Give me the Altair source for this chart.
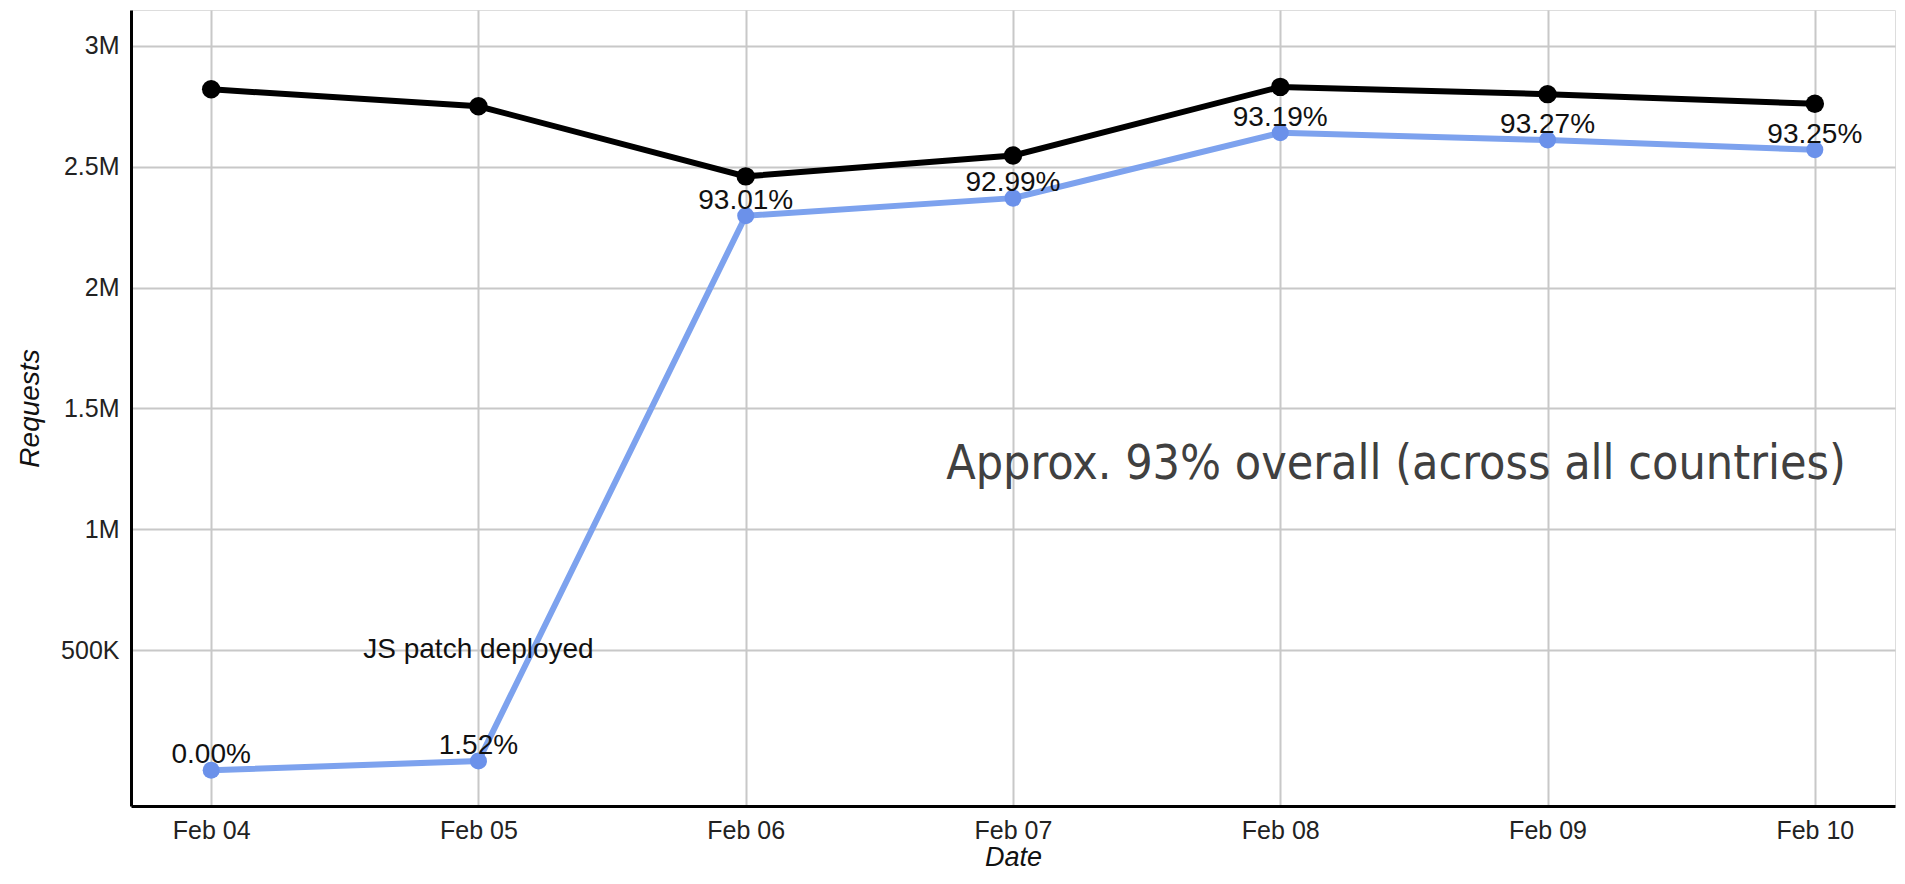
import altair as alt
import pandas as pd

dates = ["Feb 04", "Feb 05", "Feb 06", "Feb 07", "Feb 08", "Feb 09", "Feb 10"]
total_requests = [2820000, 2750000, 2460000, 2546000, 2830000, 2800000, 2760000]
patched_requests = [4000, 42000, 2297000, 2370000, 2640000, 2610000, 2570000]
pct_labels = ["0.00%", "1.52%", "93.01%", "92.99%", "93.19%", "93.27%", "93.25%"]
y_ticks = [500000, 1000000, 1500000, 2000000, 2500000, 3000000]

note_date = ["Feb 05"]
note_value = [500000]
note_text = ["JS patch deployed"]

big_date = ["Feb 10"]
big_value = [1265000]
big_text = ["Approx. 93% overall (across all countries)"]

df = pd.DataFrame({"Date": dates, "total": total_requests,
                   "patched": patched_requests, "pct": pct_labels})
notes = pd.DataFrame({"Date": note_date, "v": note_value, "t": note_text})
bigs = pd.DataFrame({"Date": big_date, "v": big_value, "t": big_text})

BLUE_LINE = "#7da2ee"
BLUE_PT = "#6b91ea"

x = alt.X("Date:N", sort=dates,
          scale=alt.Scale(type="point", padding=0.3),
          axis=alt.Axis(title="Date", labelAngle=0, labelFontSize=25,
                        labelFont="Liberation Sans", labelColor="#222",
                        labelPadding=12, titleFontSize=27, titleFontStyle="italic",
                        titleFontWeight="normal", titleFont="Liberation Sans",
                        titleColor="#111", titlePadding=1,
                        ticks=False, domain=True, domainColor="#000", domainWidth=3,
                        grid=True, gridColor="#c8c8c8", gridWidth=2))

yscale = alt.Scale(domain=[-144000, 3148000], nice=False, zero=False)
yaxis = alt.Axis(title="Requests", values=y_ticks,
                 labelExpr="datum.value >= 1000000 ? format(datum.value/1000000, '') + 'M' : format(datum.value/1000, '') + 'K'",
                 labelFontSize=25, labelFont="Liberation Sans", labelColor="#222",
                 labelPadding=12, titleFontSize=28, titleFontStyle="italic",
                 titleFontWeight="normal", titleFont="Liberation Sans",
                 titleColor="#111", titlePadding=16,
                 ticks=False, domain=True, domainColor="#000", domainWidth=3,
                 grid=True, gridColor="#c8c8c8", gridWidth=2)

base = alt.Chart(df)

total_line = base.mark_line(color="#000", strokeWidth=6).encode(
    x=x, y=alt.Y("total:Q", scale=yscale, axis=yaxis))
total_pts = base.mark_circle(color="#000", size=340, opacity=1).encode(
    x="Date:N", y="total:Q")

patched_line = base.mark_line(color=BLUE_LINE, strokeWidth=6).encode(
    x="Date:N", y="patched:Q")
patched_pts = base.mark_circle(color=BLUE_PT, size=290, opacity=1).encode(
    x="Date:N", y="patched:Q")

pct_text = base.mark_text(fontSize=28, font="Liberation Sans", color="#111",
                          baseline="middle", align="center", dy=-15).encode(
    x="Date:N", y="patched:Q", text="pct:N")

note = alt.Chart(notes).mark_text(fontSize=28, font="Liberation Sans", color="#111",
                                  baseline="middle", align="center").encode(
    x="Date:N", y="v:Q", text="t:N")

big = alt.Chart(bigs).mark_text(fontSize=48,
                                font="'DejaVu Sans Condensed', sans-serif",
                                color="#404040", baseline="middle", align="right", dx=31).encode(
    x="Date:N", y="v:Q", text="t:N")

chart = alt.layer(total_line, patched_line, total_pts, patched_pts, pct_text, note, big).properties(
    width=1764, height=796,
    autosize=alt.AutoSizeParams(type="none"),
    padding={"left": 123, "top": 2, "right": 2, "bottom": 70},
).configure_view(stroke=None).configure(background="white")

chart.save("out.html", embed_options={"renderer": "svg", "actions": False})
